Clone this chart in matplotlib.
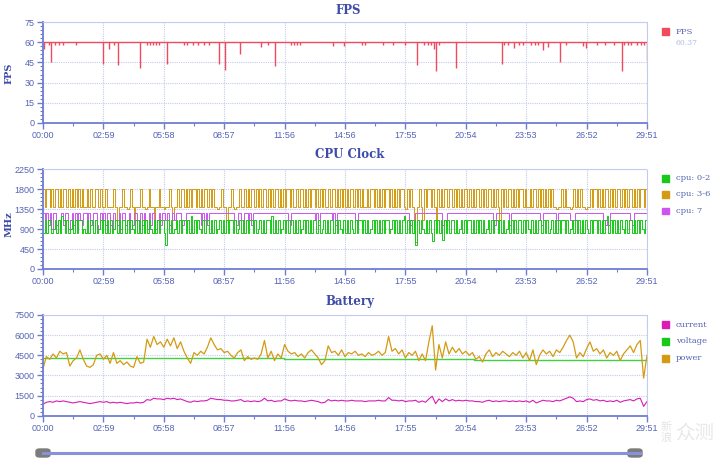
import numpy as np
import matplotlib
matplotlib.use("Agg")
import matplotlib.pyplot as plt
from matplotlib.patches import Rectangle, FancyBboxPatch
from matplotlib.lines import Line2D
from matplotlib.ticker import MultipleLocator, AutoMinorLocator

# ---- data (seconds / values) ----
duration = 1791
tick_labels = ['00:00', '02:59', '05:58', '08:57', '11:56', '14:56',
               '17:55', '20:54', '23:53', '26:52', '29:51']

fps_base = 60
fps_avg = '60.37'
dip_t = [3, 18, 23, 35, 48, 60, 98, 177, 195, 212, 223, 287, 309, 318, 326, 335, 343,
         367, 417, 428, 445, 460, 478, 492, 522, 540, 583, 645, 667, 687, 736, 745,
         752, 761, 860, 893, 945, 955, 1007, 1038, 1073, 1109, 1130, 1142, 1150, 1160,
         1164, 1175, 1225, 1361, 1368, 1380, 1396, 1410, 1423, 1447, 1458, 1468, 1482,
         1498, 1533, 1552, 1602, 1611, 1642, 1667, 1692, 1716, 1722, 1735, 1745, 1760,
         1772, 1781, 1790]
dip_v = [55, 58, 45, 58, 58, 58, 58, 44, 55, 58, 43, 40.5, 58, 58, 58, 58, 58,
         43.5, 58, 58, 58, 58, 58, 58, 44, 39, 51.5, 56.5, 58, 42, 58, 58,
         58, 58, 57, 57, 58, 58, 58, 58, 58, 43.4, 58, 58, 58, 55,
         38.4, 58, 41, 44, 58, 58, 56, 58, 58, 58, 58, 58, 54.5,
         56.5, 45.6, 58, 57, 56, 58, 58, 58, 38.4, 58, 58, 58, 58,
         58, 58, 47]

# cpu clocks, one sample every ~5 s (MHz)
cpu_3_6 = [
    1800, 1400, 1800, 1800, 1400, 1800, 1400, 1800, 1800, 1400, 1800, 1400, 1800, 1800, 1400, 1800, 1400, 1800, 1400, 1800,
    1400, 1800, 1400, 1800, 1400, 1400, 1800, 1400, 1800, 1400, 1400, 1800, 1800, 1400, 1800, 1400, 1400, 1800, 1400, 1400,
    1400, 1400, 1800, 1400, 1100, 1400, 1400, 1800, 1400, 1400, 1350, 1400, 1800, 1400, 1100, 1400, 1400, 1400, 1800, 1400,
    1400, 1350, 1400, 1800, 1400, 1400, 1100, 1400, 1400, 1800, 1400, 1400, 1350, 1400, 1400, 1800, 1400, 1100, 1400, 1400,
    1800, 1400, 1800, 1800, 1400, 1800, 1400, 1800, 1400, 1800, 1800, 1400, 1800, 1400, 1800, 1400, 1800, 1800, 1400, 1800,
    1400, 1800, 1400, 1400, 1350, 1400, 1800, 1400, 1400, 1100, 1400, 1400, 1800, 1400, 1350, 1400, 1400, 1800, 1400, 1400,
    1800, 1400, 1800, 1400, 1800, 1800, 1400, 1800, 1400, 1800, 1400, 1800, 1800, 1400, 1800, 1400, 1800, 1400, 1800, 1800,
    1400, 1800, 1400, 1800, 1400, 1800, 1800, 1400, 1800, 1400, 1400, 1800, 1400, 1800, 1800, 1400, 1800, 1400, 1800, 1400,
    1800, 1800, 1400, 1800, 1400, 1800, 1400, 1800, 1400, 1400, 1800, 1400, 1800, 1800, 1400, 1800, 1400, 1800, 1400, 1800,
    1400, 1800, 1400, 1800, 1800, 1400, 1800, 1400, 1800, 1400, 1800, 1400, 1400, 1800, 1400, 1800, 1800, 1400, 1800, 1400,
    1800, 1400, 1800, 1400, 1800, 1800, 1400, 1800, 1400, 1800, 1400, 1800, 1400, 1800, 1800, 1400, 1350, 1800, 1400, 1800,
    1400, 1100, 600, 1400, 1800, 1400, 1100, 1800, 1400, 1800, 1800, 1400, 1800, 1400, 1100, 1800, 1400, 1800, 1400, 1800,
    1800, 1400, 1800, 1800, 1400, 1800, 1400, 1800, 1400, 1800, 1400, 1800, 1800, 1400, 1800, 1400, 1800, 1400, 1800, 1800,
    1400, 1800, 1400, 1800, 1400, 1800, 1800, 1400, 1800, 1400, 1800, 1400, 1100, 1800, 1400, 1800, 1400, 1800, 1800, 1400,
    1800, 1400, 1800, 1400, 1800, 1800, 1400, 1800, 1400, 1400, 1800, 1400, 1800, 1800, 1400, 1800, 1400, 1800, 1400, 1800,
    1400, 1800, 1400, 1800, 1400, 1400, 1350, 1400, 1400, 1800, 1400, 1800, 1400, 1400, 1350, 1400, 1800, 1400, 1800, 1400,
    1800, 1400, 1400, 1350, 1400, 1400, 1800, 1400, 1800, 1800, 1400, 1800, 1400, 1800, 1400, 1800, 1800, 1400, 1800, 1400,
    1800, 1400, 1800, 1800, 1400, 1800, 1400, 1800, 1400, 1800, 1800, 1400, 1800, 1400, 1800, 1400, 1800, 1800, 1400, 1800,
    1250]
cpu_0_2 = [
    800, 1100, 800, 1100, 1100, 800, 900, 1100, 800, 1100, 800, 1200, 1100, 800, 1100, 800, 900, 1100, 800, 1100,
    800, 1100, 1100, 800, 900, 800, 1100, 800, 1100, 1100, 800, 1100, 800, 900, 1100, 800, 1100, 800, 1100, 800,
    1100, 800, 900, 1100, 800, 1100, 800, 1100, 1100, 800, 1100, 800, 1100, 900, 800, 1100, 800, 1100, 800, 1100,
    800, 1100, 800, 1100, 900, 800, 1100, 800, 1100, 800, 1100, 1100, 800, 550, 1100, 800, 1100, 800, 900, 1100,
    800, 1100, 800, 1100, 1100, 800, 1100, 800, 1200, 800, 1100, 800, 1100, 900, 800, 1100, 800, 1100, 1100, 800,
    1100, 800, 1100, 800, 900, 1100, 800, 1100, 800, 1100, 800, 1100, 1100, 800, 1100, 800, 900, 1100, 800, 1100,
    800, 1100, 800, 1100, 1100, 800, 1100, 800, 900, 1100, 800, 1100, 800, 1100, 1100, 800, 1200, 800, 1100, 800,
    1100, 800, 900, 1100, 800, 1100, 800, 1100, 1100, 800, 1100, 800, 1100, 800, 900, 1100, 800, 1100, 800, 1100,
    800, 1100, 1100, 800, 1100, 800, 900, 1100, 800, 1100, 800, 1100, 1100, 800, 1100, 800, 1100, 900, 800, 1100,
    800, 1100, 800, 1100, 900, 800, 1100, 800, 1100, 1100, 800, 1100, 800, 1100, 800, 900, 1100, 800, 1100, 800,
    1100, 800, 1100, 800, 1100, 1100, 800, 900, 1100, 800, 1100, 800, 1100, 800, 1100, 1200, 800, 1100, 800, 1100,
    800, 1100, 550, 1100, 800, 1100, 900, 800, 1100, 800, 1100, 800, 620, 1100, 800, 1100, 800, 1100, 650, 1100,
    800, 1100, 800, 1100, 1100, 800, 1100, 800, 900, 1100, 800, 1100, 800, 1100, 1100, 800, 1100, 800, 1100, 800,
    1100, 800, 1100, 800, 900, 1100, 800, 1100, 800, 1100, 1100, 800, 1100, 800, 1100, 800, 900, 1100, 800, 1100,
    800, 1100, 800, 1100, 1100, 800, 1100, 800, 1100, 900, 800, 1100, 800, 1100, 800, 1100, 1100, 800, 1100, 800,
    1100, 800, 900, 1100, 800, 1100, 800, 1100, 800, 1100, 1100, 800, 1100, 800, 900, 1100, 800, 1100, 800, 1100,
    800, 1100, 800, 1100, 900, 800, 1100, 800, 1100, 1100, 800, 1100, 800, 1100, 800, 1100, 1200, 800, 1100, 800,
    1100, 800, 1100, 800, 1100, 900, 800, 1100, 800, 1100, 1100, 800, 1100, 800, 1100, 800, 1100, 900, 800, 1100,
    800]
cpu_7 = [
    1250, 1100, 1250, 1000, 1250, 900, 1250, 1250, 1000, 1100, 900, 1250, 1000, 1250, 1250, 900, 1100, 1250, 1000, 1250,
    900, 1250, 1100, 1000, 1250, 1250, 900, 1250, 1000, 1100, 1250, 1250, 1000, 900, 1250, 1100, 1250, 1000, 1250, 1250,
    1000, 900, 1250, 1100, 1000, 1250, 900, 1250, 1250, 1000, 1100, 1250, 900, 1000, 1250, 1250, 1100, 900, 1250, 1000,
    1250, 1100, 900, 1250, 1000, 1250, 1250, 900, 1100, 1250, 1000, 1250, 1250, 1100, 1250, 1000, 900, 1250, 1100, 1250,
    1250, 1250, 1100, 1000, 1100, 1250, 1250, 1250, 1250, 1250, 1250, 1250, 1250, 1250, 1000, 1250, 1100, 1250, 1000, 1250,
    1250, 1250, 1250, 1250, 1250, 1250, 1250, 1250, 1250, 1250, 1250, 1250, 1250, 1250, 1100, 1000, 1250, 1250, 1100, 1000,
    1250, 1250, 1100, 1250, 1000, 1250, 1250, 1250, 1250, 1250, 1250, 1250, 1250, 1250, 1250, 1250, 1250, 1250, 1250, 1250,
    1250, 1250, 1250, 1250, 1250, 1250, 1100, 1000, 1250, 1250, 1250, 1250, 1250, 1250, 1250, 1250, 1250, 1250, 1250, 1250,
    1250, 1250, 1100, 1250, 1000, 1250, 1250, 1250, 1250, 1250, 1250, 1250, 1100, 1250, 1000, 1250, 1250, 1250, 1250, 1250,
    1250, 1250, 1250, 1250, 1250, 1250, 1100, 1000, 1250, 1250, 1250, 1250, 1250, 1250, 1250, 1250, 1250, 1250, 1250, 1250,
    1250, 1250, 1250, 1250, 1250, 1250, 1250, 1250, 1250, 1250, 1250, 1250, 1250, 1250, 1250, 1250, 1250, 1250, 1100, 1000,
    1100, 1000, 1250, 1250, 1250, 1250, 1250, 1250, 1250, 1250, 1250, 1250, 1250, 1250, 1250, 1250, 1250, 1250, 1000, 1100,
    1000, 1250, 1250, 1250, 1250, 1250, 1250, 1250, 1250, 1250, 1250, 1250, 1250, 1250, 1250, 1250, 1250, 1250, 1250, 1250,
    1250, 1250, 1250, 1250, 1250, 1250, 1250, 1250, 1100, 1000, 1250, 1250, 1250, 1250, 1250, 1250, 1250, 1250, 1000, 1250,
    1250, 1250, 1250, 1250, 1250, 1250, 1250, 1250, 1250, 1250, 1250, 1250, 1250, 1250, 1250, 1250, 1100, 1000, 1250, 1250,
    1250, 1250, 1250, 1250, 1250, 1250, 1100, 1250, 1250, 1250, 1250, 1250, 1250, 1250, 1100, 1000, 1100, 1250, 1250, 1250,
    1250, 1250, 1250, 1250, 1250, 1250, 1250, 1250, 1250, 1250, 1250, 1250, 1250, 1250, 1100, 1000, 1100, 1000, 1250, 1250,
    1250, 1250, 1250, 1250, 1250, 1250, 1250, 1250, 1250, 1250, 1100, 1000, 1250, 1250, 1250, 1250, 1250, 1250, 1250, 1250,
    1100]

# battery, one sample every ~10 s
current = [850, 1000, 1050, 1000, 1100, 1050, 1100, 1050, 1000, 950,
           1000, 1050, 1000, 950, 900, 950, 1000, 1050, 1000, 1050,
           950, 1000, 950, 1000, 950, 900, 950, 950, 1000, 950,
           1000, 1200, 1150, 1300, 1250, 1250, 1200, 1300, 1250, 1300,
           1200, 1250, 1150, 1050, 1000, 1100, 1050, 1100, 1100, 1150,
           1300, 1250, 1200, 1200, 1150, 1150, 1100, 1100, 1150, 1200,
           1050, 1100, 1050, 1100, 1050, 1100, 1300, 1100, 1150, 1050,
           1100, 1100, 1250, 1150, 1100, 1150, 1100, 1100, 1050, 1100,
           1150, 1100, 1050, 950, 1000, 1200, 1100, 1150, 1100, 1150,
           1100, 1100, 1150, 1100, 1100, 1100, 1050, 1100, 1100, 1100,
           1150, 1100, 1100, 1350, 1150, 1150, 1100, 1150, 1050, 1100,
           1100, 1150, 1000, 1100, 1000, 1250, 1450, 900, 1250, 1050,
           1250, 1100, 1200, 1100, 1150, 1100, 1150, 1100, 1100, 1050,
           1050, 1000, 1100, 1150, 1050, 1100, 1050, 1100, 1100, 1050,
           1100, 1050, 1100, 1050, 1100, 1000, 1150, 950, 1050, 1150,
           1100, 1100, 1050, 1150, 1100, 1200, 1300, 1400, 1300, 1050,
           1100, 1050, 1200, 1250, 1150, 1200, 1100, 1150, 1050, 1100,
           1050, 1150, 1000, 1100, 1150, 1200, 1100, 1250, 1300, 700,
           1050]
power = [3500, 4400, 4200, 4600, 4300, 4800, 4600, 4700, 3700, 4100,
         4300, 4900, 4200, 3700, 3600, 3800, 4500, 4600, 4200, 4500,
         3900, 4700, 3900, 4100, 3800, 4000, 3700, 3600, 4400, 3900,
         4000, 5700, 5100, 5900, 5300, 5500, 5100, 5700, 5200, 5800,
         5000, 5500, 4800, 4300, 3900, 4700, 4500, 4800, 4600, 5100,
         5800, 5300, 4900, 5000, 4700, 4800, 4500, 4300, 4700, 4900,
         4100, 4400, 4200, 4300, 4200, 4600, 5600, 4300, 4800, 4100,
         4600, 4300, 5300, 4800, 4600, 4700, 4400, 4600, 4300, 4700,
         4900, 4600, 4300, 3800, 4100, 5200, 4700, 4800, 4500, 4900,
         4400, 4700, 4600, 4800, 4500, 4600, 4400, 4700, 4500, 4600,
         4800, 4500, 4700, 5900, 4800, 5000, 4600, 4900, 4300, 4700,
         4500, 4800, 4100, 4600, 4100, 5500, 6700, 3400, 5300, 4300,
         5500, 4600, 5100, 4700, 5000, 4600, 4800, 4500, 4700, 4200,
         4400, 4000, 4600, 4900, 4400, 4700, 4500, 4800, 4600, 4400,
         4700, 4500, 4800, 4300, 4700, 4100, 4900, 3800, 4500, 4900,
         4600, 4800, 4400, 4900, 4700, 5100, 5600, 6000, 5500, 4300,
         4700, 4400, 5000, 5500, 4800, 5000, 4600, 4900, 4300, 4700,
         4500, 4800, 4100, 4600, 4900, 5200, 4700, 5300, 5600, 2800,
         4500]
volt_t = [0, 716, 1279, 1791]
volt_v = [4270, 4220, 4170, 4170]

# sample times (evenly spaced samples over the session)
t_cpu = np.linspace(0, duration, len(cpu_3_6))
t_bat = np.linspace(0, duration, len(power))

# ---- style ----
W, H = 720, 465
AX_COL = '#6f7dd0'
TXT_COL = '#5563b5'
TITLE_COL = '#3e4ca8'
GRID_COL = '#c5cbee'
C_FPS = '#ee4c5e'
C_GREEN = '#19c919'
C_GOLD = '#d49b12'
C_PURPLE = '#cc55ee'
C_MAG = '#d81cb4'
C_VOLT = '#3fd43f'


def fx(px):
    return px / W


def fy(py):
    return 1 - py / H


fig = plt.figure(figsize=(7.2, 4.65), dpi=100)
fig.patch.set_facecolor('white')


def make_axes(top, bottom, ymax, ystep):
    ax = fig.add_axes([fx(43), fy(bottom), fx(647) - fx(43), fy(top) - fy(bottom)])
    ax.set_xlim(0, duration)
    ax.set_ylim(0, ymax)
    ax.set_xticks(np.arange(len(tick_labels)) * duration / (len(tick_labels) - 1))
    ax.set_xticklabels(tick_labels)
    ax.xaxis.set_minor_locator(AutoMinorLocator(2))
    ax.yaxis.set_major_locator(MultipleLocator(ystep))
    ax.yaxis.set_minor_locator(AutoMinorLocator(5))
    ax.grid(True, which='major', color=GRID_COL, linestyle=(0, (1, 1)), linewidth=0.8)
    ax.set_axisbelow(True)
    for s in ['left', 'bottom']:
        ax.spines[s].set_color(AX_COL)
        ax.spines[s].set_linewidth(1.3)
    for s in ['top', 'right']:
        ax.spines[s].set_color(GRID_COL)
        ax.spines[s].set_linestyle((0, (1, 1)))
        ax.spines[s].set_linewidth(0.8)
    ax.tick_params(which='major', length=4, width=1, color=AX_COL, labelcolor=TXT_COL,
                   labelsize=6.5, pad=2)
    ax.tick_params(which='minor', length=2.5, width=0.8, color=AX_COL)
    for lab in ax.get_xticklabels() + ax.get_yticklabels():
        lab.set_fontfamily('Liberation Sans')
    return ax


def title(px, py, s):
    fig.text(fx(px), fy(py), s, ha='center', va='center', fontsize=8.5,
             fontweight='bold', family='DejaVu Serif', color=TITLE_COL)


def legend(entries, x, y0, dy):
    for i, (lab, col) in enumerate(entries):
        y = y0 + i * dy
        fig.add_artist(Rectangle((fx(x - 4), fy(y + 3.5)), 7 / W, 7 / H,
                                 transform=fig.transFigure, color=col))
        fig.text(fx(x + 10), fy(y), lab, ha='left', va='center', fontsize=6,
                 family='DejaVu Serif', color=TXT_COL)


# ---- FPS ----
ax1 = make_axes(22, 123, 75, 15)
ax1.hlines(fps_base, 0, duration, color=C_FPS, linewidth=1.0)
ax1.vlines(dip_t, dip_v, fps_base, color=C_FPS, linewidth=1.0)
title(348, 10, 'FPS')
fig.text(fx(9), fy(73), 'FPS', rotation=90, ha='center', va='center', fontsize=7,
         fontweight='bold', family='DejaVu Serif', color=TITLE_COL)
legend([('FPS', C_FPS)], 666, 32, 0)
fig.text(fx(676), fy(43), fps_avg, ha='left', va='center', fontsize=5.5,
         family='DejaVu Serif', color='#b4bbe4')

# ---- CPU Clock ----
ax2 = make_axes(169, 269, 2250, 450)
ax2.plot(t_cpu, cpu_3_6, color=C_GOLD, linewidth=0.7, drawstyle='steps-post')
ax2.plot(t_cpu, cpu_7, color=C_PURPLE, linewidth=0.7, drawstyle='steps-post')
ax2.plot(t_cpu, cpu_0_2, color=C_GREEN, linewidth=0.7, drawstyle='steps-post')
title(350, 155, 'CPU Clock')
fig.text(fx(9), fy(224), 'MHz', rotation=90, ha='center', va='center', fontsize=7,
         fontweight='bold', family='DejaVu Serif', color=TITLE_COL)
legend([('cpu: 0-2', C_GREEN), ('cpu: 3-6', C_GOLD), ('cpu: 7', C_PURPLE)], 666, 178, 16.5)

# ---- Battery ----
ax3 = make_axes(315, 415.7, 7500, 1500)
ax3.plot(t_bat, current, color=C_MAG, linewidth=0.8)
ax3.plot(volt_t, volt_v, color=C_VOLT, linewidth=1.0, drawstyle='steps-post')
ax3.plot(t_bat, power, color=C_GOLD, linewidth=0.9)
title(350, 301, 'Battery')
legend([('current', C_MAG), ('voltage', C_GREEN), ('power', C_GOLD)], 666, 324.5, 16.8)

# ---- zoom slider ----
fig.add_artist(Line2D([fx(43), fx(640)], [fy(453), fy(453)], color='#8891da',
                      linewidth=2.2, transform=fig.transFigure))
for hx in (36, 628):
    fig.add_artist(FancyBboxPatch((fx(hx), fy(457)), 14 / W, 8 / H,
                                  boxstyle='round,pad=0,rounding_size=0.005',
                                  transform=fig.transFigure, color='#7c7c7c'))

# watermark (site mark in the lower right corner)
fig.text(fx(666), fy(432), '新\n浪', ha='center', va='center', fontsize=8,
         family='Noto Sans CJK SC', color='#e4e4e4', linespacing=1.0)
fig.text(fx(695), fy(434), '众测', ha='center', va='center', fontsize=14,
         family='Noto Sans CJK SC', color='#e8e8e8')

fig.savefig('out.png', dpi=100)
